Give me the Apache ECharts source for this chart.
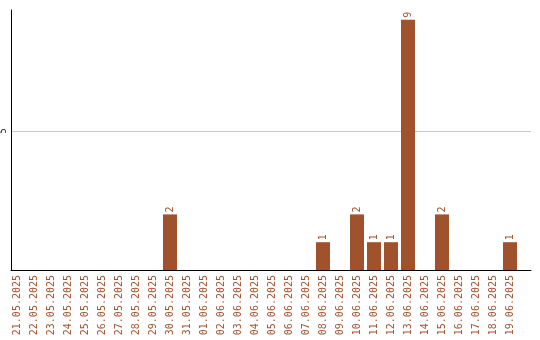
<!DOCTYPE html>
<html><head><meta charset="utf-8">
<script src="https://cdn.jsdelivr.net/npm/echarts@6/dist/echarts.min.js"></script>
<style>html,body{margin:0;padding:0;background:#fff}#c{width:540px;height:340px}</style>
</head><body><div id="c"></div>
<script>
const categories = ["21.05.2025","22.05.2025","23.05.2025","24.05.2025","25.05.2025","26.05.2025","27.05.2025","28.05.2025","29.05.2025","30.05.2025","31.05.2025","01.06.2025","02.06.2025","03.06.2025","04.06.2025","05.06.2025","06.06.2025","07.06.2025","08.06.2025","09.06.2025","10.06.2025","11.06.2025","12.06.2025","13.06.2025","14.06.2025","15.06.2025","16.06.2025","17.06.2025","18.06.2025","19.06.2025"];
const values = [0,0,0,0,0,0,0,0,0,2,0,0,0,0,0,0,0,0,1,0,2,1,1,9,0,2,0,0,0,1];
const yTicks = [5];
const yMax = 9.35;
const chart = echarts.init(document.getElementById('c'), null, {renderer:'canvas'});
chart.setOption({
  animation:false,
  grid:[
    {left:11,right:9,top:10,bottom:70,containLabel:false},
    {left:8.5,width:510,top:10,bottom:70,containLabel:false}
  ],
  xAxis:[
    {gridIndex:0,type:'value',min:0,max:1,
      axisLine:{show:true,onZero:false,lineStyle:{color:'#000',width:1}},
      axisTick:{show:false},axisLabel:{show:false},splitLine:{show:false}},
    {gridIndex:1,type:'category',data:categories,
      axisLine:{show:false},
      axisTick:{show:false},
      axisLabel:{rotate:90,interval:0,color:'#a0522d',fontFamily:'DejaVu Sans Mono',fontSize:10,margin:5}}
  ],
  yAxis:[
    {gridIndex:0,type:'value',min:0,max:yMax,interval:5,
      axisLine:{show:true,lineStyle:{color:'#000',width:1}},
      axisTick:{show:false},
      splitLine:{show:true,lineStyle:{color:'#c8c8c8',width:1}},
      axisLabel:{rotate:90,color:'#000',fontFamily:'DejaVu Sans Mono',fontSize:8,margin:3,
        formatter:v=>yTicks.includes(v)?String(v):''}},
    {gridIndex:1,type:'value',min:0,max:yMax,
      axisLine:{show:false},axisTick:{show:false},axisLabel:{show:false},splitLine:{show:false}}
  ],
  series:[{type:'bar',xAxisIndex:1,yAxisIndex:1,
    data:values.map(v=>v===0?{value:v,label:{show:false}}:v),barWidth:14,
    itemStyle:{color:'#a0522d'},
    label:{show:true,position:'top',rotate:90,align:'left',verticalAlign:'middle',distance:2,color:'#a0522d',fontFamily:'DejaVu Sans Mono',fontSize:10}}]
});
// hide top split line at max by custom splitLine via interval: drawn lines at 0 and 5 only
chart.setOption({yAxis:[{splitLine:{show:true,lineStyle:{color:['transparent','#c8c8c8','transparent']}}},{}]});
</script></body></html>
